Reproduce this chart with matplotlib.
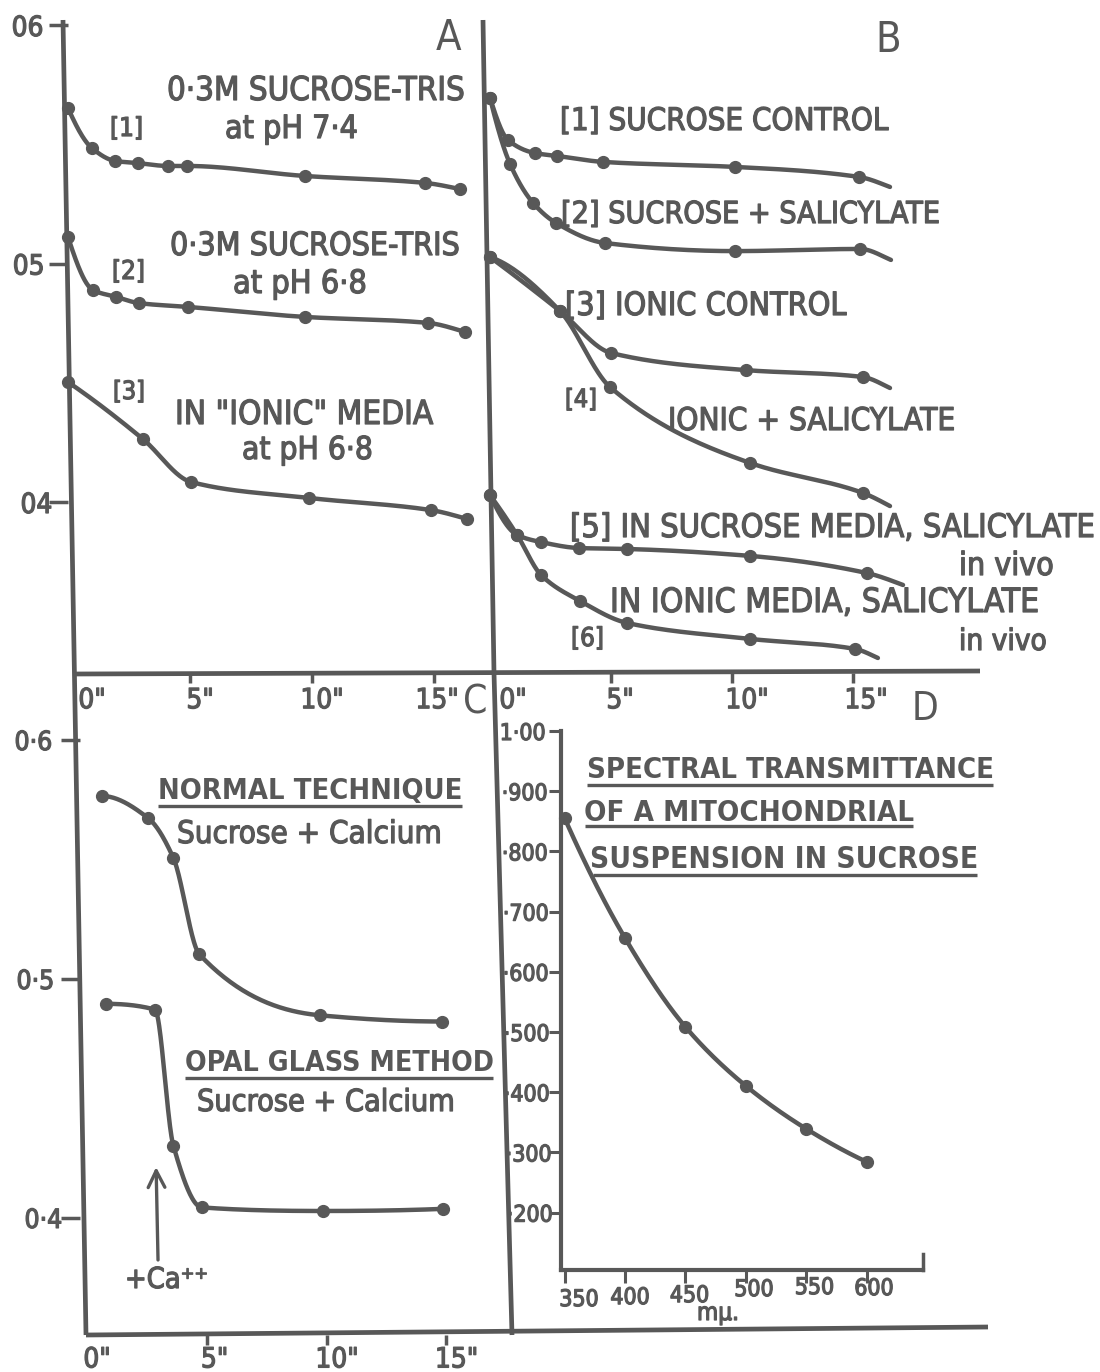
import numpy as np
import matplotlib
matplotlib.use("Agg")
import matplotlib.pyplot as plt
from matplotlib import font_manager
import matplotlib.transforms as mtransforms
import matplotlib.patheffects as pe

# ---------------- data ----------------
# Panel A: optical density against time (minutes)
a1_t = [0, 0.98, 1.93, 2.87, 4.10, 4.88, 9.71, 14.63, 16.07]
a1_od = [0.5652, 0.5484, 0.5430, 0.5421, 0.5409, 0.5409, 0.5367, 0.5338, 0.5312]
a2_t = [0, 1.02, 1.97, 2.91, 4.92, 9.71, 14.75, 16.27]
a2_od = [0.5111, 0.4889, 0.4860, 0.4834, 0.4818, 0.4776, 0.4751, 0.4713]
a3_t = [0, 3.07, 5.04, 9.88, 14.88, 16.35]
a3_od = [0.4503, 0.4264, 0.4084, 0.4017, 0.3966, 0.3929]

# Panel B (the last entry of each series is the end of the drawn line, without a dot)
b1_t = [0, 0.74, 1.86, 2.77, 4.67, 10.12, 15.25, 16.53]
b1_od = [0.5694, 0.5518, 0.5463, 0.5451, 0.5426, 0.5405, 0.5363, 0.5321]
b2_t = [0, 0.83, 1.78, 2.73, 4.75, 10.12, 15.29, 16.57]
b2_od = [0.5694, 0.5417, 0.5254, 0.5170, 0.5086, 0.5052, 0.5061, 0.5015]
b3_t = [0, 2.89, 5.00, 10.58, 15.41, 16.53]
b3_od = [0.5027, 0.4801, 0.4625, 0.4553, 0.4524, 0.4478]
b4_t = [0, 2.89, 4.96, 10.74, 15.41, 16.53]
b4_od = [0.5027, 0.4801, 0.4482, 0.4164, 0.4038, 0.3983]
b5_t = [0, 1.12, 2.11, 3.68, 5.66, 10.74, 15.58, 17.07]
b5_od = [0.4029, 0.3862, 0.3832, 0.3807, 0.3803, 0.3774, 0.3702, 0.3652]
b6_t = [0, 1.12, 2.11, 3.72, 5.66, 10.74, 15.08, 16.03]
b6_od = [0.4029, 0.3862, 0.3694, 0.3585, 0.3493, 0.3426, 0.3384, 0.3346]

# Panel C
c1_t = [0.57, 2.52, 3.57, 4.66, 9.71, 14.80]
c1_od = [0.5766, 0.5673, 0.5507, 0.5103, 0.4848, 0.4822]
c2_t = [0.75, 2.80, 3.57, 4.76, 9.85, 14.87]
c2_od = [0.4896, 0.4872, 0.4303, 0.4044, 0.4029, 0.4038]
ca_arrow_t = [2.93, 2.85]        # tail, head
ca_arrow_od = [0.3824, 0.4213]

# Panel D: transmittance against wavelength (m\u03bc)
d_wl = [350, 400, 450, 500, 550, 600]
d_tr = [0.8555, 0.6561, 0.5083, 0.4103, 0.3389, 0.2841]

time_ticks = [0, 5, 10, 15]
time_labels = ['0"', '5"', '10"', '15"']
od_ticks = [0.4, 0.5, 0.6]
od_labels_a = ['04', '05', '06']
od_labels_c = ['0\u00b74', '0\u00b75', '0\u00b76']
d_yticks = [1.0, 0.9, 0.8, 0.7, 0.6, 0.5, 0.4, 0.3, 0.2]
d_ylabels = ['1\u00b700', '\u00b7900', '\u00b7800', '\u00b7700', '\u00b7600',
             '\u00b7500', '\u00b7400', '\u00b7300', '\u00b7200']
d_xticks = [350, 400, 450, 500, 550, 600]
d_xlabels = ['350', '400', '450', '500', '550', '600']

# ---------------- style / layout ----------------
W, H, DPI = 1100, 1372, 100
INK = '#585858'
LW = 3.2
MS = 8.5
HEAVY = [pe.withStroke(linewidth=0.9, foreground=INK)]

ttf = font_manager.fontManager.ttflist
if any(f.name == 'DejaVu Sans' and f.stretch == 'condensed' for f in ttf):
    plt.rcParams['font.family'] = ['DejaVu Sans']
    plt.rcParams['font.stretch'] = 'condensed'
elif any(f.name == 'Liberation Sans Narrow' for f in ttf):
    plt.rcParams['font.family'] = ['Liberation Sans Narrow', 'DejaVu Sans']
else:
    plt.rcParams['font.family'] = ['DejaVu Sans']

fig = plt.figure(figsize=(W / DPI, H / DPI), dpi=DPI)
fig.patch.set_facecolor('white')
renderer = fig.canvas.get_renderer()


def px_axes(l, t, r, b, **kw):
    return fig.add_axes([l / W, 1 - b / H, (r - l) / W, (b - t) / H], **kw)


def pchip(x, y, n=40):
    x = np.asarray(x, float)
    y = np.asarray(y, float)
    h = np.diff(x)
    d = np.diff(y) / h
    m = np.zeros_like(y)
    for k in range(1, len(x) - 1):
        if d[k - 1] * d[k] > 0:
            w1 = 2 * h[k] + h[k - 1]
            w2 = h[k] + 2 * h[k - 1]
            m[k] = (w1 + w2) / (w1 / d[k - 1] + w2 / d[k])

    def end(h0, h1, d0, d1):
        mm = ((2 * h0 + h1) * d0 - h0 * d1) / (h0 + h1)
        if np.sign(mm) != np.sign(d0):
            return 0.0
        if np.sign(d0) != np.sign(d1) and abs(mm) > abs(3 * d0):
            return 3 * d0
        return mm

    if len(x) > 2:
        m[0] = end(h[0], h[1], d[0], d[1])
        m[-1] = end(h[-1], h[-2], d[-1], d[-2])
    else:
        m[:] = d[0]
    t = np.linspace(0, 1, n)
    h00 = 2 * t**3 - 3 * t**2 + 1
    h10 = t**3 - 2 * t**2 + t
    h01 = -2 * t**3 + 3 * t**2
    h11 = t**3 - t**2
    xs, ys = [], []
    for k in range(len(x) - 1):
        xs.append(x[k] + t * h[k])
        ys.append(h00 * y[k] + h10 * h[k] * m[k] + h01 * y[k + 1] + h11 * h[k] * m[k + 1])
    return np.concatenate(xs), np.concatenate(ys)


def curve(ax, t, v, n_dots=None):
    xs, ys = pchip(t, v)
    ax.plot(xs, ys, color=INK, lw=LW, solid_capstyle='round',
            solid_joinstyle='round', clip_on=False)
    n = len(t) if n_dots is None else n_dots
    ax.plot(t[:n], v[:n], 'o', color=INK, ms=MS, clip_on=False)


def put(x, y, s, width=None, size=22, ha='left', va='baseline', heavy=True, **kw):
    t = fig.text(x / W, 1 - y / H, s, fontsize=size, ha=ha, va=va, color=INK, **kw)
    if width:
        w = t.get_window_extent(renderer).width
        t.set_fontsize(size * width / w)
    if heavy:
        t.set_path_effects(HEAVY)
    return t


def shift(labels, dxs, dys=None):
    if dys is None:
        dys = [0] * len(dxs)
    for lab, dx, dy in zip(labels, dxs, dys):
        lab.set_transform(lab.get_transform() +
                          mtransforms.ScaledTranslation(dx / DPI, -dy / DPI, fig.dpi_scale_trans))
        lab.set_path_effects(HEAVY)


def clean(ax):
    ax.patch.set_alpha(0)
    for s in ax.spines.values():
        s.set_visible(False)


def time_axis(ax, pad, dxs):
    # 0" sits on the frame line itself: label only, no tick mark
    ax.set_xticks(time_ticks[1:], time_labels[1:])
    ax.set_xticks(time_ticks[:1], time_labels[:1], minor=True)
    ax.tick_params(axis='x', which='major', colors=INK, width=2.5, length=7.5,
                   pad=pad, labelsize=20)
    ax.tick_params(axis='x', which='minor', colors=INK, length=0,
                   pad=pad + 7.5, labelsize=20)
    shift(ax.get_xticklabels(minor=True), dxs[:1])
    shift(ax.get_xticklabels(), dxs[1:])


# background frame (hand-drawn divider lines of the original figure)
bg = px_axes(0, 0, W, H)
bg.set_xlim(0, W)
bg.set_ylim(H, 0)
bg.axis('off')
frame_kw = dict(color=INK, lw=3.4, solid_capstyle='butt')
bg.plot([63, 86], [20, 1335], **frame_kw)
bg.plot([483, 494, 512], [20, 673, 1335], **frame_kw)
bg.plot([74, 980], [674, 671], **frame_kw)
bg.plot([86, 988], [1335, 1327], **frame_kw)

AB_YLIM = (0.3283, 0.6021)

# ---------------- panel A ----------------
ax_a = px_axes(68, 20, 494, 673)
clean(ax_a)
ax_a.set_xlim(0, 17.46)
ax_a.set_ylim(*AB_YLIM)
ax_a.set_yticks(od_ticks, od_labels_a)
ax_a.tick_params(axis='y', colors=INK, width=2.5, labelsize=20, length=14, pad=3)
shift(ax_a.get_yticklabels(), [8, 0, -1])
time_axis(ax_a, 2, [24, 10, 10, 3])
curve(ax_a, a1_t, a1_od)
curve(ax_a, a2_t, a2_od)
curve(ax_a, a3_t, a3_od)

# ---------------- panel B ----------------
ax_b = px_axes(490, 20, 980, 673)
clean(ax_b)
ax_b.set_xlim(0, 20.25)
ax_b.set_ylim(*AB_YLIM)
ax_b.set_yticks([])
time_axis(ax_b, 2, [23, 9, 15, 13])
for t_, v_ in [(b1_t, b1_od), (b2_t, b2_od), (b3_t, b3_od),
               (b4_t, b4_od), (b5_t, b5_od), (b6_t, b6_od)]:
    curve(ax_b, t_, v_, n_dots=len(t_) - 1)

# ---------------- panel C ----------------
ax_c = px_axes(80, 676, 505, 1335)
clean(ax_c)
ax_c.set_xlim(-0.335, 17.45)
ax_c.set_ylim(0.3510, 0.6268)
ax_c.set_yticks(od_ticks, od_labels_c)
ax_c.tick_params(axis='y', colors=INK, width=2.5, length=14, pad=3, labelsize=19)
shift(ax_c.get_yticklabels(), [6, -2, -4])
time_axis(ax_c, 0, [9, 7, 10, 10])
curve(ax_c, c1_t, c1_od)
curve(ax_c, c2_t, c2_od)
ax_c.annotate('', xy=(ca_arrow_t[1], ca_arrow_od[1]), xytext=(ca_arrow_t[0], ca_arrow_od[0]),
              arrowprops=dict(arrowstyle='->', color=INK, lw=2.4, mutation_scale=30,
                              shrinkA=0, shrinkB=0))

# ---------------- panel D ----------------
ax_d = px_axes(561, 731, 923, 1270)
ax_d.patch.set_alpha(0)
for s in ('top', 'right'):
    ax_d.spines[s].set_visible(False)
for s in ('left', 'bottom'):
    ax_d.spines[s].set_color(INK)
    ax_d.spines[s].set_linewidth(3)
ax_d.set_xlim(347.1, 646.3)
ax_d.set_ylim(0.1047, 1.0)
ax_d.set_yticks(d_yticks, d_ylabels)
ax_d.set_xticks(d_xticks, d_xlabels)
ax_d.tick_params(colors=INK, width=2.2, labelsize=16.5, length=9)
ax_d.tick_params(axis='y', pad=2)
ax_d.tick_params(axis='x', pad=-1)
shift(ax_d.get_yticklabels(), [0, 2, 2, 3, 3, 4, 4, 6, 7])
shift(ax_d.get_xticklabels(), [14.5, 5, 4, 8, 8, 7], [7, 5, 3, -3, -5, -4])
ax_d.plot([1, 1], [0, 0.03], transform=ax_d.transAxes, color=INK, lw=2.5, clip_on=False)
curve(ax_d, d_wl, d_tr)

# ---------------- texts ----------------
put(449, 50, 'A', size=30, ha='center', heavy=False)
put(167, 100, '0\u00b73M SUCROSE-TRIS', 298)
put(225, 138, 'at pH 7\u00b74', 133)
put(110, 136, '[1]', 33)
put(170, 255, '0\u00b73M SUCROSE-TRIS', 290)
put(233, 293, 'at pH 6\u00b78', 134)
put(112, 279, '[2]', 33)
put(113, 399, '[3]', 32)
put(175, 424, 'IN "IONIC" MEDIA', 258)
put(242, 459, 'at pH 6\u00b78', 131)

put(888, 52, 'B', size=30, ha='center', heavy=False)
put(560, 130, '[1] SUCROSE CONTROL', 328)
put(561, 223, '[2] SUCROSE + SALICYLATE', 379)
put(565, 315, '[3] IONIC CONTROL', 281)
put(565, 407, '[4]', 32)
put(668, 430, 'IONIC + SALICYLATE', 287)
put(570, 537, '[5] IN SUCROSE MEDIA, SALICYLATE', 525)
put(959, 575, 'in vivo', 95)
put(610, 612, 'IN IONIC MEDIA, SALICYLATE', 429)
put(959, 650, 'in vivo', 88)
put(571, 646, '[6]', 33)

put(475, 714, 'C', size=28, ha='center', heavy=False)
put(925, 720, 'D', size=28, ha='center', heavy=False)

ul_kw = dict(color=INK, lw=2.4, solid_capstyle='butt')
put(158, 799, 'NORMAL TECHNIQUE', 304, fontweight='bold', heavy=False)
bg.plot([158, 462], [806, 806], **ul_kw)
put(177, 843, 'Sucrose + Calcium', 265)
put(185, 1071, 'OPAL GLASS METHOD', 308, fontweight='bold', heavy=False)
bg.plot([185, 493], [1078, 1078], **ul_kw)
put(197, 1111, 'Sucrose + Calcium', 258)
put(125, 1288, '+Ca\u207a\u207a', 83)

put(587, 778, 'SPECTRAL TRANSMITTANCE', 406, fontweight='bold', heavy=False)
bg.plot([587, 993], [785, 785], **ul_kw)
put(584, 821, 'OF A MITOCHONDRIAL', 329, fontweight='bold', heavy=False)
bg.plot([585, 913], [826, 826], **ul_kw)
put(590, 868, 'SUSPENSION IN SUCROSE', 387, fontweight='bold', heavy=False)
bg.plot([593, 977], [875, 875], **ul_kw)
put(697, 1320, 'm\u03bc.', 42)

fig.savefig('out.png', dpi=DPI, facecolor='white')
